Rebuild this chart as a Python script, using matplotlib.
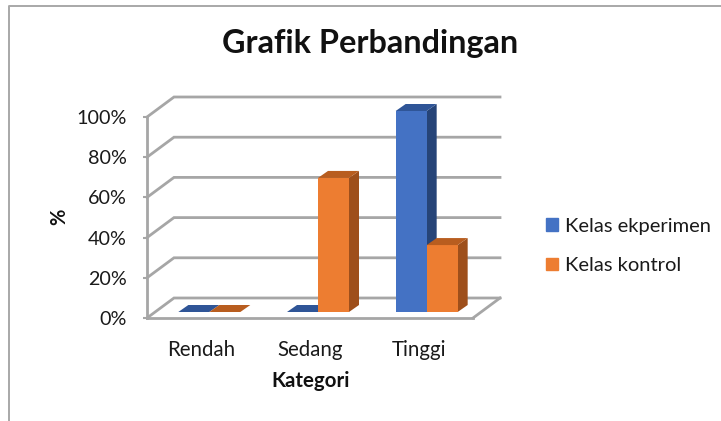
import matplotlib
matplotlib.use("Agg")
from matplotlib import pyplot as plt
from matplotlib.patches import Patch, Polygon

categories = ['Rendah', 'Sedang', 'Tinggi']
eksperimen = [0, 0, 100]
kontrol = [0, 66.7, 33.3]
y_ticks = [0, 20, 40, 60, 80, 100]
y_labels = ['0%', '20%', '40%', '60%', '80%', '100%']

plt.rcParams['font.family'] = ['Lato', 'DejaVu Sans']

W, H = 721, 421
fig = plt.figure(figsize=(W / 100, H / 100), dpi=100)
ax = fig.add_axes([147 / W, (H - 318) / H, 326 / W, 201 / H])
ax.set_xlim(-0.5, 2.5)
ax.set_ylim(0, 100)

# fake 3d, offsets in data units
px_x = 3 / 326
px_y = 100 / 201
wall_dx, wall_dy = 27 * px_x, 20 * px_y
bar_dx, bar_dy = 10 * px_x, 7 * px_y
shift_x, lift = 8 * px_x, 6 * px_y
bar_w = 31 * px_x
grid_color = '#a6a6a6'

x0, x1 = ax.get_xlim()
for v in y_ticks:
    ax.plot([x0, x0 + wall_dx, x1 + wall_dx], [v, v + wall_dy, v + wall_dy],
            color=grid_color, lw=2, clip_on=False, zorder=1, solid_joinstyle='miter')
ax.plot([x1, x1 + wall_dx], [0, wall_dy], color=grid_color, lw=2, clip_on=False, zorder=1)


def draw_series(vals, offset, face, top, side):
    for i, v in enumerate(vals):
        left = i + shift_x + offset * bar_w
        right = left + bar_w
        y_top = lift + v
        ax.bar(left, v, width=bar_w, bottom=lift, align='edge', color=face, zorder=3, clip_on=False)
        ax.add_patch(Polygon([(left, y_top), (right, y_top), (right + bar_dx, y_top + bar_dy),
                              (left + bar_dx, y_top + bar_dy)], color=top, lw=0, zorder=3, clip_on=False))
        if v > 0:
            ax.add_patch(Polygon([(right, lift), (right + bar_dx, lift + bar_dy),
                                  (right + bar_dx, y_top + bar_dy), (right, y_top)],
                                 color=side, lw=0, zorder=2.5, clip_on=False))


draw_series(eksperimen, -1, '#4472c4', '#2f5597', '#264478')
draw_series(kontrol, 0, '#ed7d31', '#b85d1f', '#9e4f1b')

ax.patch.set_visible(False)
for s in ['top', 'right']:
    ax.spines[s].set_visible(False)
for s in ['left', 'bottom']:
    ax.spines[s].set_color(grid_color)
    ax.spines[s].set_linewidth(2)
ax.set_xticks(range(3), categories)
ax.set_yticks(y_ticks, y_labels)
ax.tick_params(axis='x', length=0, pad=15.5, labelsize=14.8, labelcolor='#1a1a1a')
ax.tick_params(axis='y', length=3, width=1.5, color=grid_color, pad=11.5, labelsize=14.2, labelcolor='#1a1a1a')
for lab in ax.get_xticklabels():
    lab.set_x(lab.get_position()[0])

fig.text(311 / W, 1 - 381 / H, 'Kategori', ha='center', va='center', fontsize=14.8, fontweight='bold', color='#111111')
fig.text(59 / W, 1 - 217 / H, '%', ha='center', va='center', rotation=90, fontsize=14.5, fontweight='bold', color='#111111')
fig.text(370 / W, 1 - 43.5 / H, 'Grafik Perbandingan', ha='center', va='center', fontsize=23.3, fontweight='bold', color='#111111')

handles = [Patch(color='#4472c4', label='Kelas ekperimen'), Patch(color='#ed7d31', label='Kelas kontrol')]
fig.legend(handles=handles, loc='center left', bbox_to_anchor=(546 / W, 1 - 246 / H), frameon=False,
           fontsize=14.5, handlelength=0.6, handleheight=0.6, handletextpad=0.35, labelspacing=1.1,
           borderpad=0, borderaxespad=0, labelcolor='#1a1a1a')

# chart border, cropped on the right and bottom
border = plt.Line2D([8.5 / W, 8.5 / W, 1], [0, 1 - 5.5 / H, 1 - 5.5 / H], color='#a8a8a8', lw=1.4)
fig.add_artist(border)
fig.savefig('out.png', dpi=100)
